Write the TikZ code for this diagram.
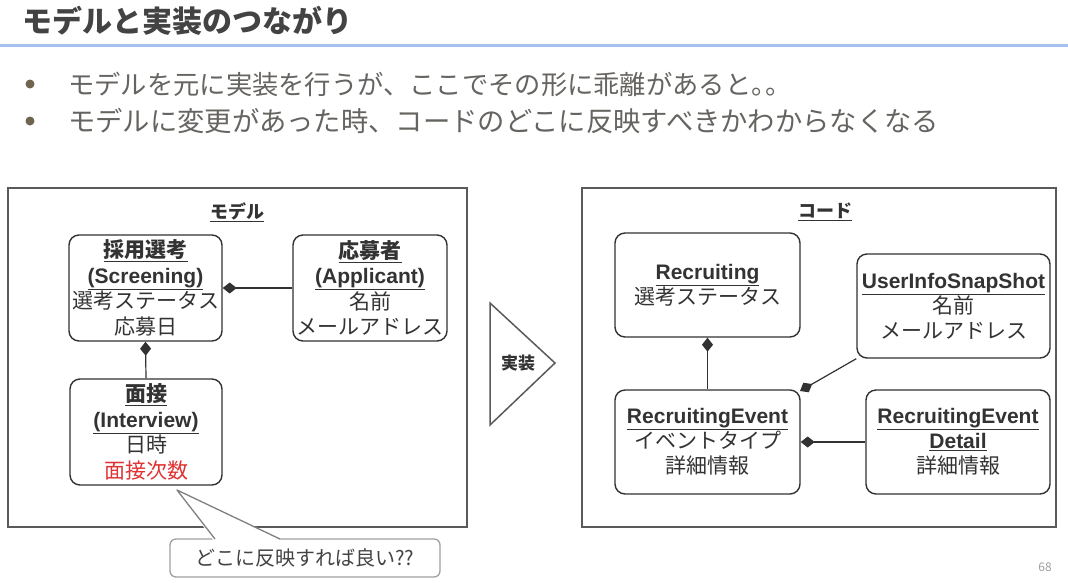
\documentclass[tikz,border=0pt]{standalone}
\usepackage{fontspec}
\setmainfont{Noto Sans CJK JP}
\newfontfamily\lat{Liberation Sans}
\usetikzlibrary{arrows.meta}
\definecolor{titlec}{RGB}{67,67,67}
\definecolor{bultxt}{RGB}{102,100,96}
\definecolor{buldot}{RGB}{110,100,80}
\definecolor{bluel}{RGB}{164,194,240}
\definecolor{boxc}{RGB}{50,50,50}
\definecolor{framec}{RGB}{90,90,90}
\definecolor{txtc}{RGB}{51,51,51}
\definecolor{redc}{RGB}{224,50,50}
\definecolor{calloutc}{RGB}{160,160,160}
\begin{document}
\begin{tikzpicture}[x=1pt,y=-1pt,
  box/.style={draw=boxc, line width=1.4pt, rounded corners=10pt, fill=white, align=center,
    inner sep=0pt, font=\fontsize{21}{25.5}\selectfont, text=txtc},
  frame/.style={draw=framec, line width=2pt, inner sep=0pt},
  comp/.style={draw=boxc, line width=1.2pt, -{Diamond[length=14pt,width=11pt]}},
  hd/.style={font=\fontsize{18}{20}\selectfont\bfseries, text=txtc, inner sep=0pt},
  bul/.style={anchor=west, inner sep=0pt, text=bultxt}]
\useasboundingbox (0,0) rectangle (1068,582);
\fill[white] (0,0) rectangle (1068,582);
% title
\node[anchor=west, inner sep=0pt, font=\fontsize{30}{33}\selectfont\bfseries, text=titlec] (title) at (22,21) {モデルと実装のつながり};
\fill[bluel] (0,43.5) rectangle (1068,47);
% bullets
\fill[buldot] (30,84) circle (4.5);
\fill[buldot] (30,121) circle (4.5);
\node[bul, font=\fontsize{26.3}{29}\selectfont] (b1) at (68,84) {モデルを元に実装を行うが、ここでその形に乖離があると。\kern-12pt。};
\node[bul, font=\fontsize{27.3}{30}\selectfont] (b2) at (68,121) {モデルに変更があった時、コードのどこに反映すべきかわからなくなる};
% frames
\node[frame, minimum width=459pt, minimum height=339pt] (lf) at (237.5,357.5) {};
\node[frame, minimum width=474pt, minimum height=339pt] (rf) at (819,357.5) {};
\node[hd] (lft) at (237,212) {\underline{モデル}};
\node[hd] (rft) at (825,212) {\underline{コード}};
% model boxes
\node[box, minimum width=153pt, minimum height=106pt] (scr) at (145.5,288) {\underline{\textbf{採用選考}}\\\underline{\textbf{\lat (Screening)}}\\選考ステータス\\応募日};
\node[box, minimum width=154pt, minimum height=106pt] (app) at (370,288) {\underline{\textbf{応募者}}\\\underline{\textbf{\lat (Applicant)}}\\名前\\メールアドレス};
\node[box, minimum width=152pt, minimum height=106pt] (int) at (146,432) {\underline{\textbf{面接}}\\\underline{\textbf{\lat (Interview)}}\\日時\\\textcolor{redc}{面接次数}};
\draw[comp] (app.west) -- (scr.east);
\draw[comp] (int.north) -- (scr.south);
% code boxes
\node[box, minimum width=185pt, minimum height=104pt, font=\fontsize{21}{25}\selectfont] (rec) at (707.5,285) {\underline{\textbf{\lat Recruiting}}\\選考ステータス};
\node[box, minimum width=193pt, minimum height=104pt, font=\fontsize{21}{25}\selectfont] (uis) at (953.5,306) {\underline{\textbf{\lat UserInfoSnapShot}}\\名前\\メールアドレス};
\node[box, minimum width=185pt, minimum height=104pt, font=\fontsize{21}{25}\selectfont] (rev) at (707.5,442) {\underline{\textbf{\lat RecruitingEvent}}\\イベントタイプ\\詳細情報};
\node[box, minimum width=184pt, minimum height=104pt, font=\fontsize{21}{25}\selectfont] (det) at (958,442) {\underline{\textbf{\lat RecruitingEvent}}\\\underline{\textbf{\lat Detail}}\\詳細情報};
\coordinate (revtip) at (800,391);
\draw[comp] (rev.north) -- (rec.south);
\draw[comp] (det.west) -- (rev.east);
\draw[comp] (uis.south west) -- (revtip);
% implementation triangle
\draw[framec, line width=1.5pt, fill=white] (490,303) -- (555,363) -- (490,425) -- cycle;
\node[inner sep=0pt, font=\fontsize{17}{19}\selectfont\bfseries, text=txtc] (impl) at (518,363) {実装};
% callout
\node[draw=calloutc, line width=1.3pt, rounded corners=6pt, fill=white, minimum width=270pt, minimum height=38pt,
  inner sep=0pt, font=\fontsize{20}{22}\selectfont, text=titlec] (co) at (305,558) {どこに反映すれば良い??};
\coordinate (cotip) at (177,490);
\fill[white] (213.5,540.5) -- (cotip) -- (281.5,540.5) -- cycle;
\draw[calloutc!80!black, line width=1.3pt, line join=round] (215,539) -- (cotip) -- (280,539);
% page number
\node[inner sep=0pt, font=\fontsize{12}{14}\selectfont, text=calloutc] (pg) at (1045,567) {68};
\end{tikzpicture}
\end{document}
